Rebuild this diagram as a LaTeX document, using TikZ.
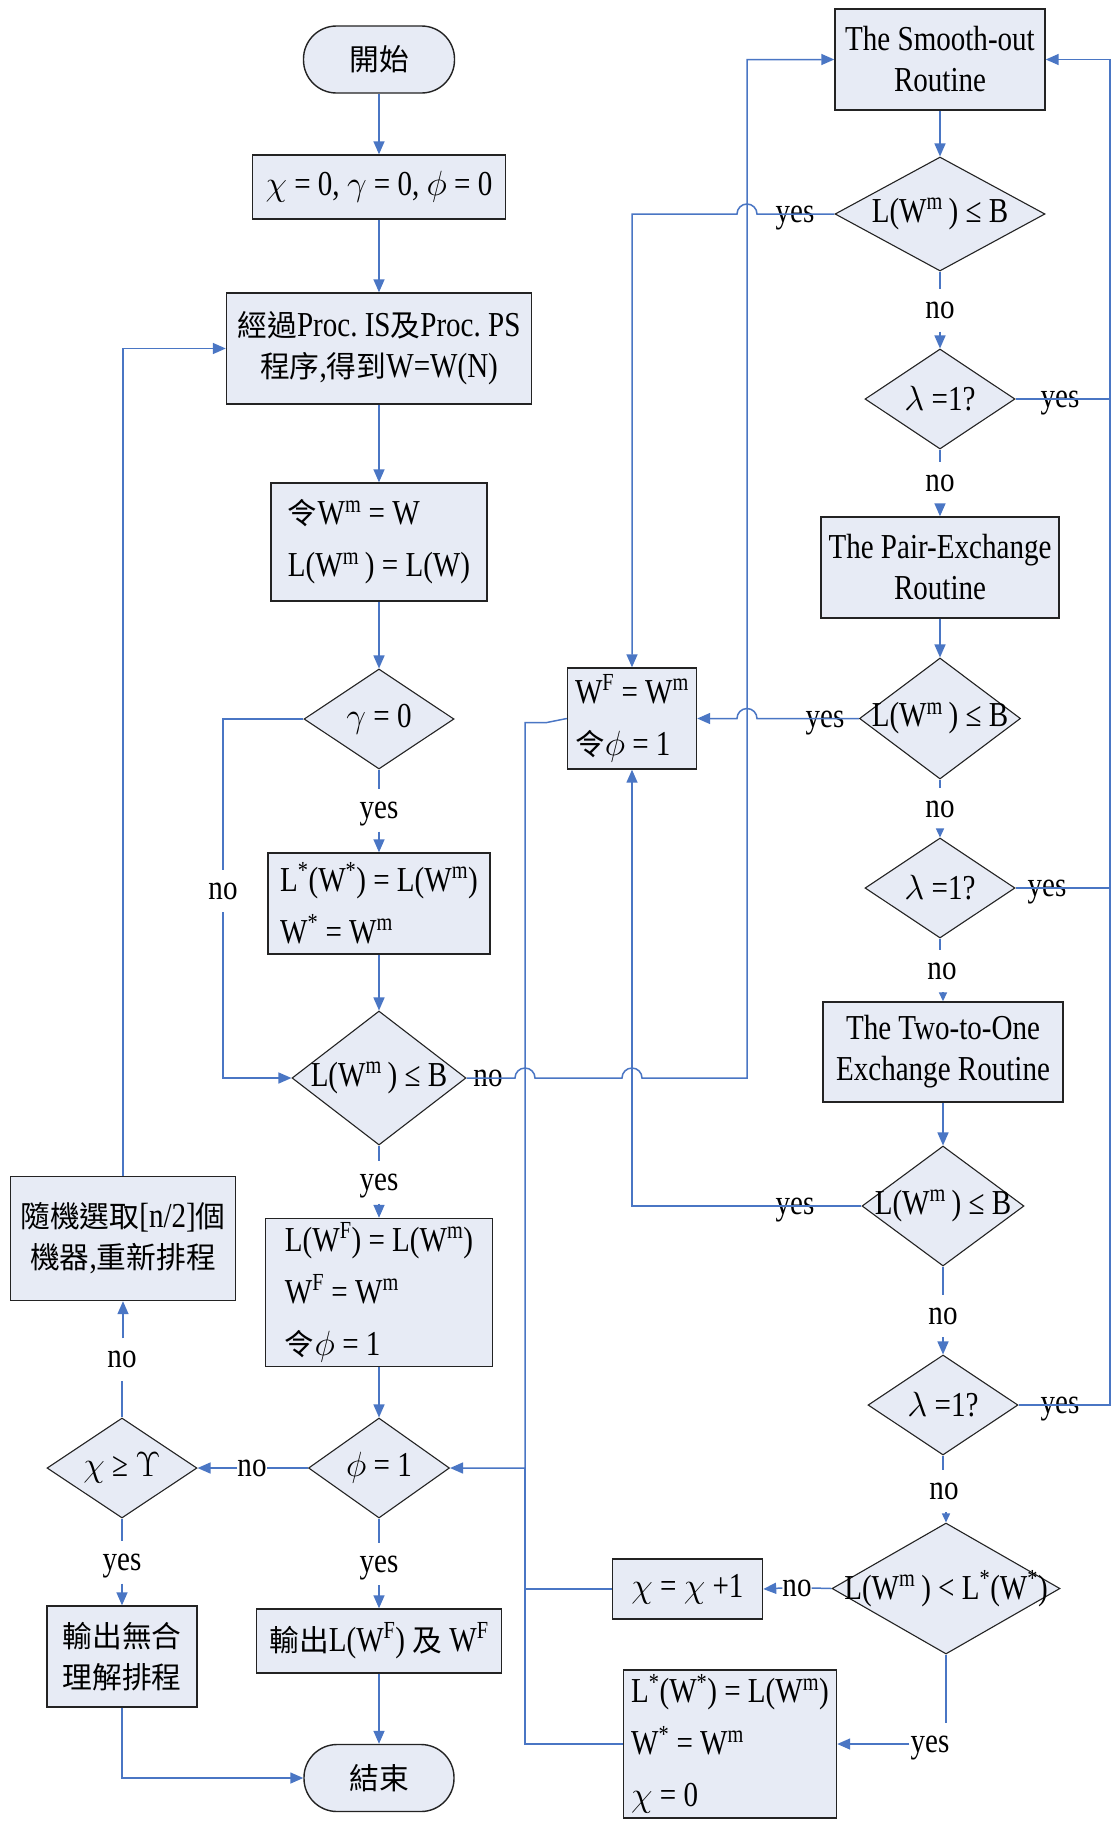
\documentclass[tikz,border=0pt]{standalone}
\usepackage{fix-cm}
\usepackage{fontspec}
\setmainfont{Liberation Serif}[FakeStretch=0.83]
\newfontfamily\cjk{Noto Sans CJK TC}[Scale=0.85]
\usetikzlibrary{shapes.geometric,arrows.meta}
\definecolor{boxfill}{RGB}{231,235,245}
\definecolor{flow}{RGB}{74,118,196}
\definecolor{boxline}{RGB}{35,35,35}
\newcommand{\supx}[1]{\textsuperscript{#1}}
\newcommand{\zh}[1]{{\cjk #1}}

\begin{document}
\begin{tikzpicture}[x=1pt,y=-1pt,
  font=\fontsize{35}{41}\selectfont,
  procbox/.style={draw=boxline, line width=1.4pt, fill=boxfill, inner sep=0pt, align=center},
  formbox/.style={procbox, align=left, font=\fontsize{35}{52}\selectfont},
  termbox/.style={procbox, rounded corners=33pt},
  decision/.style={diamond, draw=boxline, line width=1.1pt, fill=boxfill, inner sep=0pt},
  dtext/.style={inner sep=0pt},
  flowlabel/.style={inner xsep=1pt, inner ysep=13pt, text height=16pt, text depth=0pt},
  flowline/.style={draw=flow, line width=1.5pt},
  arr/.style={flowline, -{Triangle[length=13pt,width=11pt]}},
  sarr/.style={flowline, -{Triangle[length=9pt,width=8pt]}},
]
\fill[white] (0,0) rectangle (1112,1821);
\useasboundingbox (0,0) rectangle (1112,1821);

% ---------------- left column ----------------
\node[termbox, minimum width=151pt, minimum height=67pt] (start) at (379,59.5) {\zh{開始}};
\node[procbox, minimum width=253pt, minimum height=64pt] (init) at (379,187)
  {$\chi$ = 0, $\gamma$ = 0, $\phi$ = 0};
\node[procbox, minimum width=305pt, minimum height=111pt] (proc) at (379,348.5)
  {\zh{經過}Proc.\ IS\zh{及}Proc.\ PS\\\zh{程序},\zh{得到}W=W(N)};
\node[formbox, minimum width=216pt, minimum height=118pt] (setw) at (379,542)
  {\zh{令}W\supx{m} = W\\L(W\supx{m}\,) = L(W)};
\node[decision, minimum width=150pt, minimum height=100pt] (dg) at (379,719) {};
\node[dtext] (dgt) at (dg) {$\gamma$ = 0};
\node[formbox, minimum width=222pt, minimum height=101pt] (lstar1) at (379,903.5)
  {L\supx{*}(W\supx{*}) = L(W\supx{m})\\W\supx{*} = W\supx{m}};
\node[decision, minimum width=174pt, minimum height=134pt] (dmain) at (379,1078) {};
\node[dtext] (dmaint) at (dmain) {L(W\supx{m}\,) ≤ B};
\node[formbox, minimum width=227pt, minimum height=148pt] (lwf) at (379,1292.5)
  {L(W\supx{F}) = L(W\supx{m})\\W\supx{F} = W\supx{m}\\\zh{令}$\phi$ = 1};
\node[decision, minimum width=141pt, minimum height=100pt] (dphi) at (379,1468) {};
\node[dtext] (dphit) at (dphi) {$\phi$ = 1};
\node[decision, minimum width=150pt, minimum height=100pt] (dchi) at (122,1468) {};
\node[dtext] (dchit) at (dchi) {$\chi$ ≥ $\Upsilon$};
\node[procbox, minimum width=225pt, minimum height=124pt] (rand) at (123,1238.5)
  {\zh{隨機選取}[n/2]\zh{個}\\\zh{機器},\zh{重新排程}};
\node[procbox, minimum width=150pt, minimum height=101pt] (nores) at (122,1656.5)
  {\zh{輸出無合}\\\zh{理解排程}};
\node[procbox, minimum width=245pt, minimum height=64pt] (out) at (379,1641)
  {\zh{輸出}L(W\supx{F}) \zh{及} W\supx{F}};
\node[termbox, minimum width=150pt, minimum height=67pt] (end) at (379,1778) {\zh{結束}};

% ---------------- right column ----------------
\node[procbox, minimum width=210pt, minimum height=101pt] (smooth) at (940,59.5)
  {The Smooth-out\\Routine};
\node[decision, minimum width=210pt, minimum height=114pt] (ds1) at (940,214) {};
\node[dtext] (ds1t) at (ds1) {L(W\supx{m}\,) ≤ B};
\node[decision, minimum width=150pt, minimum height=100pt] (dl1) at (940,399) {};
\node[dtext] (dl1t) at (dl1) {$\lambda$ =1?};
\node[procbox, minimum width=238pt, minimum height=101pt] (pair) at (940,567.5)
  {The Pair-Exchange\\Routine};
\node[decision, minimum width=161pt, minimum height=121pt] (ds2) at (940,718.5) {};
\node[dtext] (ds2t) at (ds2) {L(W\supx{m}\,) ≤ B};
\node[decision, minimum width=150pt, minimum height=100pt] (dl2) at (940,888) {};
\node[dtext] (dl2t) at (dl2) {$\lambda$ =1?};
\node[procbox, minimum width=240pt, minimum height=100pt] (two) at (943,1052)
  {The Two-to-One\\Exchange Routine};
\node[decision, minimum width=162pt, minimum height=120pt] (ds3) at (943,1206) {};
\node[dtext] (ds3t) at (ds3) {L(W\supx{m}\,) ≤ B};
\node[decision, minimum width=150pt, minimum height=100pt] (dl3) at (943,1405) {};
\node[dtext] (dl3t) at (dl3) {$\lambda$ =1?};
\node[decision, minimum width=228pt, minimum height=131pt] (ds4) at (946,1588.5) {};
\node[dtext] (ds4t) at (ds4) {L(W\supx{m}\,) < L\supx{*}(W\supx{*})};
\node[procbox, minimum width=150pt, minimum height=60pt] (inc) at (687.5,1589)
  {$\chi$ = $\chi$ +1};
\node[formbox, minimum width=213pt, minimum height=148pt] (lstar2) at (730,1744)
  {L\supx{*}(W\supx{*}) = L(W\supx{m})\\W\supx{*} = W\supx{m}\\$\chi$ = 0};
\node[formbox, minimum width=129pt, minimum height=101pt] (wf) at (632,718.5)
  {W\supx{F} = W\supx{m}\\\zh{令}$\phi$ = 1};

% free corners of the two collecting lines
\coordinate (rtop) at (1110,59.5);
\coordinate (bus) at (525,1468);

% ---------------- branch labels ----------------
\node[flowlabel] (y1) at (379,810.5) {yes};
\node[flowlabel] (n9) at (223,891) {no};
\node[flowlabel] (n8) at (488,1078) {no};
\node[flowlabel] (y9) at (379,1182.5) {yes};
\node[flowlabel, inner xsep=0pt] (n10) at (252,1468) {no};
\node[flowlabel] (n11) at (122,1359.5) {no};
\node[flowlabel] (y10) at (122,1562.5) {yes};
\node[flowlabel] (y11) at (379,1564) {yes};
\node[flowlabel] (y2) at (795,214) {yes};
\node[flowlabel] (n1) at (940,310.5) {no};
\node[flowlabel] (y3) at (1060,399) {yes};
\node[flowlabel] (n2) at (940,483) {no};
\node[flowlabel] (y4) at (825,719) {yes};
\node[flowlabel] (n3) at (940,809) {no};
\node[flowlabel] (y5) at (1047,888) {yes};
\node[flowlabel] (n4) at (942,971) {no};
\node[flowlabel] (y6) at (795,1206) {yes};
\node[flowlabel] (n5) at (943,1316) {no};
\node[flowlabel] (y7) at (1060,1405) {yes};
\node[flowlabel] (n6) at (944,1491) {no};
\node[flowlabel, inner xsep=0pt] (n7) at (797,1588) {no};
\node[flowlabel] (y8) at (930,1744) {yes};

% ---------------- connectors: left column ----------------
\draw[arr] (start) -- (init);
\draw[arr] (init) -- (proc);
\draw[arr] (proc) -- (setw);
\draw[arr] (setw) -- (dg);
\draw[flowline] (dg.south) -- (dg.south |- y1.north);
\draw[arr] (lstar1.north |- y1.south) -- (lstar1.north);
\draw[flowline] (dg.west) -| (n9.north);
\draw[arr] (n9.south) |- (dmain.west);
\draw[arr] (lstar1) -- (dmain);
\draw[flowline] (dmain.south) -- (dmain.south |- y9.north);
\draw[arr] (lwf.north |- y9.south) -- (lwf.north);
\draw[arr] (lwf) -- (dphi);
\draw[flowline] (dphi.west) -- (n10.east);
\draw[arr] (n10.west) -- (dchi.east);
\draw[flowline] (dchi.north) -- (dchi.north |- n11.south);
\draw[arr] (rand.south |- n11.north) -- (rand.south);
\draw[arr] (rand.north) |- (proc.west);
\draw[flowline] (dchi.south) -- (dchi.south |- y10.north);
\draw[arr] (nores.north |- y10.south) -- (nores.north);
\draw[flowline] (dphi.south) -- (dphi.south |- y11.north);
\draw[arr] (out.north |- y11.south) -- (out.north);
\draw[arr] (out) -- (end);
\draw[arr] (nores.south) |- (end.west);

% "no" of the main test: over two risers, up to the smooth-out routine
\draw[arr] (dmain.east) -- (515,1078) arc[start angle=180,end angle=0,radius=10pt]
  -- (622,1078) arc[start angle=180,end angle=0,radius=10pt]
  -- (747,1078) |- (smooth.west);

% ---------------- connectors: right column ----------------
\draw[arr] (smooth) -- (ds1);
\draw[arr] (ds1.west) -- (757,214) arc[start angle=0,end angle=180,radius=10pt]
  -- (wf.north |- ds1.west) -- (wf.north);
\draw[flowline] (ds1.south) -- (ds1.south |- n1.north);
\draw[arr] (dl1.north |- n1.south) -- (dl1.north);
\draw[flowline] (dl1.east) -- (dl1.east -| rtop);
\draw[flowline] (dl1.south) -- (dl1.south |- n2.north);
\draw[arr] (pair.north |- n2.south) -- (pair.north);
\draw[arr] (pair) -- (ds2);
\draw[arr] (ds2.west) -- (757,718.5) arc[start angle=0,end angle=180,radius=10pt]
  -- (wf.east);
\draw[flowline] (ds2.south) -- (ds2.south |- n3.north);
\draw[sarr] (dl2.north |- n3.south) -- (dl2.north);
\draw[flowline] (dl2.east) -- (dl2.east -| rtop);
\draw[flowline] (dl2.south) -- (dl2.south |- n4.north);
\draw[sarr] (two.north |- n4.south) -- (two.north);
\draw[arr] (two) -- (ds3);
\draw[arr] (ds3.west) -| (wf.south);
\draw[flowline] (ds3.south) -- (ds3.south |- n5.north);
\draw[arr] (dl3.north |- n5.south) -- (dl3.north);
\draw[arr] (dl3.east) -| (rtop) -- (smooth.east);
\draw[flowline] (dl3.south) -- (dl3.south |- n6.north);
\draw[sarr] (ds4.north |- n6.south) -- (ds4.north);
\draw[flowline] (ds4.west) -- (n7.east);
\draw[arr] (n7.west) -- (inc.east);
\draw[flowline] (ds4.south) -- (ds4.south |- y8.north);
\draw[arr] (y8.west) -- (lstar2.east);

% results gathered on the bus that feeds the phi test
\draw[arr] (wf.west) -- ++(-20,4) -| (bus) -- (dphi.east);
\draw[flowline] (inc.west) -| (bus);
\draw[flowline] (lstar2.west) -| (bus);
\end{tikzpicture}
\end{document}
